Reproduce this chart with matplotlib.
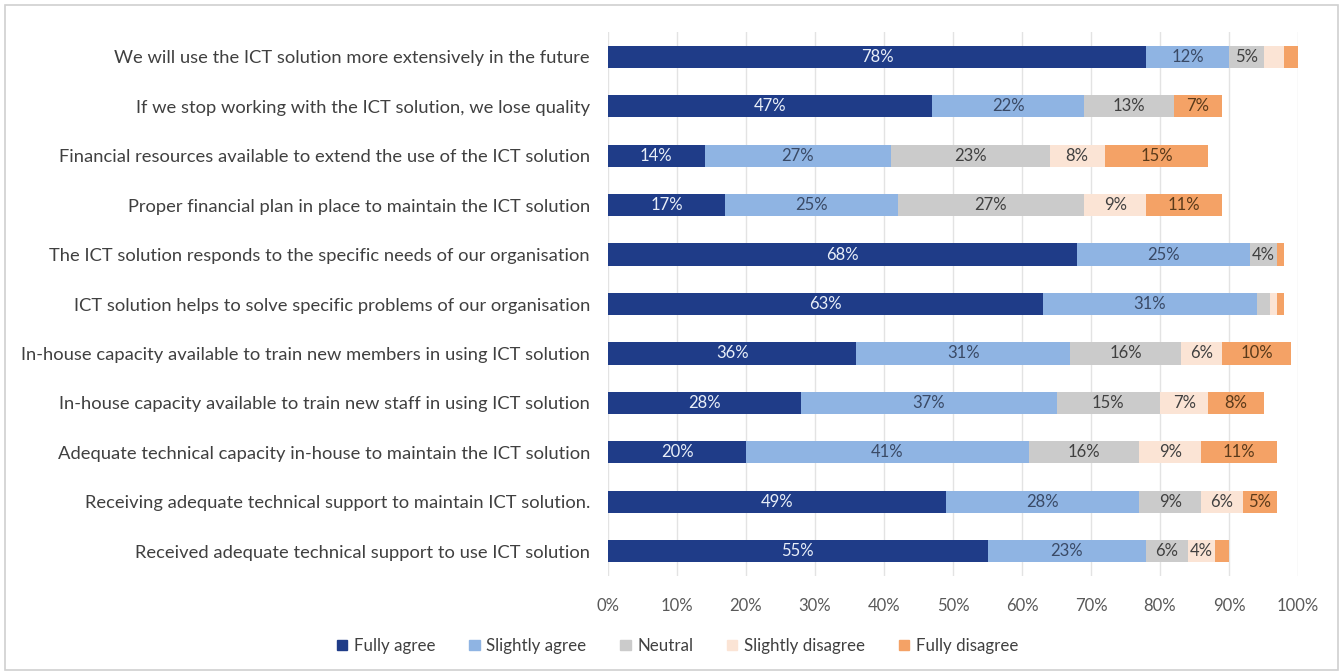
import matplotlib
matplotlib.use("Agg")
import matplotlib.pyplot as plt
from matplotlib.patches import Rectangle
import numpy as np

plt.rcParams['font.family'] = ['Lato', 'DejaVu Sans']

statements = [
    "We will use the ICT solution more extensively in the future",
    "If we stop working with the ICT solution, we lose quality",
    "Financial resources available to extend the use of the ICT solution",
    "Proper financial plan in place to maintain the ICT solution",
    "The ICT solution responds to the specific needs of our organisation",
    "ICT solution helps to solve specific problems of our organisation",
    "In-house capacity available to train new members in using ICT solution",
    "In-house capacity available to train new staff in using ICT solution",
    "Adequate technical capacity in-house to maintain the ICT solution",
    "Receiving adequate technical support to maintain ICT solution.",
    "Received adequate technical support to use ICT solution",
]

categories = ["Fully agree", "Slightly agree", "Neutral", "Slightly disagree", "Fully disagree"]

fully_agree       = [78, 47, 14, 17, 68, 63, 36, 28, 20, 49, 55]
slightly_agree    = [12, 22, 27, 25, 25, 31, 31, 37, 41, 28, 23]
neutral           = [5, 13, 23, 27, 4, 2, 16, 15, 16, 9, 6]
slightly_disagree = [3, 0, 8, 9, 0, 1, 6, 7, 9, 6, 4]
fully_disagree    = [2, 7, 15, 11, 1, 1, 10, 8, 11, 5, 2]

series = [fully_agree, slightly_agree, neutral, slightly_disagree, fully_disagree]
colors = ["#1f3c88", "#8fb4e3", "#cbcbcb", "#fbe4d5", "#f4a266"]
label_colors = ["#e8eef8", "#3a4a66", "#404040", "#404040", "#5a3a1a"]

fig = plt.figure(figsize=(13.42, 6.72), dpi=100)
ax = fig.add_axes([608 / 1342, 1 - 576 / 672, 690 / 1342, 544 / 672])

y = np.arange(len(statements))
left = np.zeros(len(statements))
for vals, col, lc in zip(series, colors, label_colors):
    vals = np.array(vals, dtype=float)
    ax.barh(y, vals, left=left, height=0.45, color=col, edgecolor="none", zorder=3)
    for yi, (l, v) in enumerate(zip(left, vals)):
        if v >= 4:
            ax.text(l + v / 2, yi, f"{int(v)}%", ha="center", va="center",
                    fontsize=12, color=lc, zorder=4)
    left += vals

ax.set_xlim(0, 100)
ax.set_ylim(len(statements) - 0.5, -0.5)
ax.set_yticks(y)
ax.set_yticklabels(statements, fontsize=13.2, color="#404040")
ax.set_xticks(np.arange(0, 101, 10))
ax.set_xticklabels([f"{t}%" for t in range(0, 101, 10)], fontsize=12, color="#595959")
ax.tick_params(axis="both", length=0)
ax.tick_params(axis="y", pad=13)
ax.tick_params(axis="x", pad=16)
ax.grid(axis="x", color="#e3e3e3", linewidth=1, zorder=0)
for s in ax.spines.values():
    s.set_visible(False)

handles = [Rectangle((0, 0), 1, 1, color=c) for c in colors]
fig.legend(handles, categories, loc="center", bbox_to_anchor=(0.505, 1 - 646 / 672),
           ncol=5, frameon=False, fontsize=12.2, handlelength=0.6, handleheight=0.6,
           handletextpad=0.4, columnspacing=2.0, labelcolor="#404040")

fig.add_artist(Rectangle((5 / 1342, 2 / 672), 1333 / 1342, 665 / 672,
                         transform=fig.transFigure, fill=False,
                         edgecolor="#d0d0d0", linewidth=1.2))

fig.savefig("out.png", dpi=100)
